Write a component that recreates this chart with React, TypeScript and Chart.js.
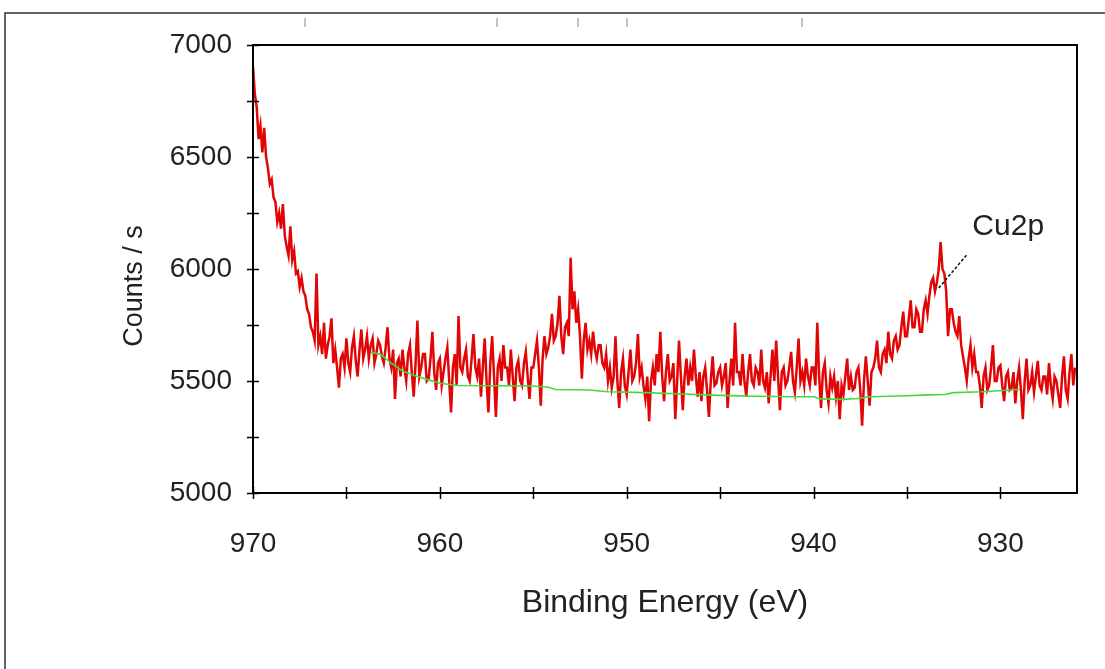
import { useEffect, useRef } from "react";
import { Chart, registerables } from "chart.js";

Chart.register(...registerables);

// Spectrum sampling: first energy and step (eV)
const START_EV = 970;
const STEP_EV = 0.1;

// Counts / s, one row per eV (970.0, 969.9, ... 969.1 / 969.0 ...)
const spectrumCounts: number[] = [
  6900, 6780, 6720, 6580, 6640, 6520, 6630, 6500, 6450, 6380, // 970
  6400, 6320, 6300, 6210, 6250, 6180, 6290, 6150, 6100, 6060, // 969
  6190, 6040, 6080, 5980, 5990, 5920, 5960, 5900, 5880, 5820, // 968
  5800, 5740, 5720, 5680, 5980, 5660, 5700, 5620, 5760, 5600, // 967
  5660, 5700, 5780, 5580, 5640, 5560, 5470, 5600, 5620, 5560, // 966
  5690, 5580, 5540, 5650, 5700, 5590, 5520, 5640, 5730, 5600, // 965
  5640, 5700, 5600, 5660, 5690, 5580, 5620, 5680, 5660, 5610, // 964
  5580, 5650, 5740, 5600, 5560, 5640, 5420, 5580, 5600, 5520, // 963
  5640, 5560, 5500, 5620, 5660, 5540, 5430, 5580, 5770, 5520, // 962
  5560, 5620, 5620, 5500, 5510, 5600, 5720, 5540, 5460, 5580, // 961
  5600, 5480, 5540, 5600, 5650, 5500, 5360, 5560, 5620, 5480, // 960
  5790, 5560, 5540, 5600, 5640, 5520, 5500, 5600, 5710, 5560, // 959
  5520, 5600, 5430, 5560, 5690, 5500, 5360, 5580, 5700, 5520, // 958
  5340, 5560, 5600, 5500, 5660, 5560, 5560, 5480, 5640, 5520, // 957
  5410, 5560, 5590, 5500, 5480, 5580, 5630, 5520, 5420, 5560, // 956
  5560, 5620, 5680, 5560, 5390, 5600, 5700, 5620, 5650, 5700, // 955
  5800, 5680, 5700, 5760, 5880, 5700, 5620, 5740, 5760, 5700, // 954
  6050, 5820, 5900, 5760, 5820, 5700, 5510, 5680, 5760, 5640, // 953
  5680, 5620, 5720, 5640, 5600, 5660, 5660, 5580, 5560, 5620, // 952
  5500, 5560, 5470, 5520, 5700, 5500, 5380, 5540, 5600, 5480, // 951
  5440, 5540, 5640, 5500, 5520, 5580, 5710, 5520, 5560, 5480, // 950
  5420, 5520, 5320, 5500, 5560, 5480, 5620, 5540, 5720, 5520, // 949
  5410, 5540, 5620, 5500, 5520, 5580, 5330, 5500, 5680, 5520, // 948
  5370, 5520, 5600, 5480, 5560, 5500, 5640, 5520, 5430, 5540, // 947
  5410, 5520, 5560, 5460, 5340, 5500, 5610, 5480, 5490, 5540, // 946
  5560, 5480, 5520, 5580, 5380, 5500, 5600, 5480, 5760, 5540, // 945
  5540, 5480, 5620, 5500, 5430, 5540, 5620, 5500, 5480, 5560, // 944
  5540, 5480, 5640, 5500, 5470, 5540, 5400, 5520, 5640, 5500, // 943
  5680, 5520, 5370, 5540, 5560, 5480, 5500, 5560, 5630, 5500, // 942
  5450, 5560, 5690, 5500, 5540, 5480, 5600, 5520, 5480, 5560, // 941
  5560, 5480, 5760, 5520, 5380, 5540, 5580, 5460, 5400, 5520, // 940
  5470, 5520, 5430, 5500, 5330, 5480, 5440, 5520, 5600, 5460, // 939
  5520, 5460, 5470, 5540, 5560, 5460, 5300, 5500, 5610, 5500, // 938
  5390, 5540, 5560, 5600, 5680, 5560, 5540, 5620, 5640, 5580, // 937
  5720, 5620, 5600, 5680, 5700, 5640, 5660, 5740, 5810, 5700, // 936
  5700, 5780, 5860, 5740, 5740, 5820, 5800, 5720, 5720, 5820, // 935
  5860, 5800, 5880, 5940, 5960, 5900, 5940, 6000, 6120, 6000, // 934
  5980, 5900, 5700, 5820, 5820, 5760, 5720, 5700, 5790, 5660, // 933
  5610, 5560, 5500, 5600, 5660, 5560, 5620, 5540, 5540, 5480, // 932
  5380, 5520, 5560, 5460, 5480, 5560, 5660, 5500, 5500, 5560, // 931
  5570, 5480, 5410, 5520, 5540, 5460, 5470, 5540, 5400, 5500, // 930
  5560, 5460, 5330, 5500, 5600, 5460, 5480, 5540, 5450, 5520, // 929
  5590, 5480, 5460, 5520, 5520, 5440, 5580, 5480, 5420, 5520, // 928
  5500, 5440, 5380, 5520, 5610, 5460, 5420, 5540, 5620, 5480, // 927
  5560, // 926
];

// Fitted background (green)
const backgroundEV: number[] = [
  963.7, 963.2, 962.6, 962.0, 961.2, 960.6, 960.0, 959.0, 957.0, 955.0,
  954.2, 953.8, 952.0, 951.0, 949.0, 947.0, 945.0, 943.0, 941.0, 940.0,
  939.6, 938.5, 937.6, 937.0, 935.0, 933.8, 933.0, 932.5, 931.0, 929.0,
];
const backgroundCounts: number[] = [
  5628, 5620, 5580, 5545, 5520, 5505, 5490, 5480, 5479, 5478,
  5472, 5462, 5460, 5452, 5448, 5442, 5436, 5432, 5430, 5430,
  5420, 5418, 5422, 5430, 5434, 5438, 5440, 5448, 5452, 5462,
];

// Axes
const xTickValues = [970, 965, 960, 955, 950, 945, 940, 935, 930];
const xLabelValues = [970, 960, 950, 940, 930];
const yTickValues = [5000, 5250, 5500, 5750, 6000, 6250, 6500, 6750, 7000];
const yLabelValues = [5000, 5500, 6000, 6500, 7000];
const X_MIN = 925.9;
const X_MAX = 970;
const Y_MIN = 5000;
const Y_MAX = 7000;

const xTitle = "Binding Energy (eV)";
const yTitle = "Counts / s";

// Peak annotation (data coordinates)
const peakLabel = "Cu2p";
const peakLabelAt = { x: 931.5, y: 6152 };
const peakLeaderFrom = { x: 933.3, y: 5915 };
const peakLeaderTo = { x: 931.8, y: 6063 };

const FONT = "'Liberation Sans', Arial, sans-serif";

const decorPlugin = {
  id: "decor",
  afterDraw(chart: any) {
    const { ctx, chartArea: a } = chart;
    const xs = chart.scales.x;
    const ys = chart.scales.y;
    ctx.save();
    // outer frame
    ctx.strokeStyle = "#333";
    ctx.lineWidth = 1.5;
    ctx.beginPath();
    ctx.moveTo(5, 669);
    ctx.lineTo(5, 13);
    ctx.lineTo(1105, 13);
    ctx.stroke();
    // faint stray marks at the top
    ctx.strokeStyle = "#888";
    ctx.lineWidth = 1;
    [305, 497, 578, 627, 802].forEach((mx) => {
      ctx.beginPath();
      ctx.moveTo(mx, 18);
      ctx.lineTo(mx, 27);
      ctx.stroke();
    });
    // plot box
    ctx.strokeStyle = "#000";
    ctx.lineWidth = 2;
    ctx.strokeRect(a.left, a.top, a.right - a.left, a.bottom - a.top);
    // ticks crossing the axes
    ctx.lineWidth = 1.5;
    xTickValues.forEach((v) => {
      const px = Math.round(xs.getPixelForValue(v)) + 0.5;
      ctx.beginPath();
      ctx.moveTo(px, a.bottom - 6);
      ctx.lineTo(px, a.bottom + 6);
      ctx.stroke();
    });
    yTickValues.forEach((v) => {
      const py = Math.round(ys.getPixelForValue(v)) + 0.5;
      ctx.beginPath();
      ctx.moveTo(a.left - 6, py);
      ctx.lineTo(a.left + 6, py);
      ctx.stroke();
    });
    // annotation
    ctx.strokeStyle = "#111";
    ctx.lineWidth = 1.5;
    ctx.setLineDash([3, 2]);
    ctx.beginPath();
    ctx.moveTo(xs.getPixelForValue(peakLeaderFrom.x), ys.getPixelForValue(peakLeaderFrom.y));
    ctx.lineTo(xs.getPixelForValue(peakLeaderTo.x), ys.getPixelForValue(peakLeaderTo.y));
    ctx.stroke();
    ctx.setLineDash([]);
    ctx.fillStyle = "#222";
    ctx.font = `30px ${FONT}`;
    ctx.textAlign = "left";
    ctx.textBaseline = "alphabetic";
    ctx.fillText(peakLabel, xs.getPixelForValue(peakLabelAt.x), ys.getPixelForValue(peakLabelAt.y));
    // y title
    ctx.translate(135, 286);
    ctx.rotate(-Math.PI / 2);
    ctx.font = `27px ${FONT}`;
    ctx.textAlign = "center";
    ctx.textBaseline = "middle";
    ctx.fillText(yTitle, 0, 0);
    ctx.restore();
  },
};

export default function App() {
  const canvasRef = useRef<HTMLCanvasElement | null>(null);

  useEffect(() => {
    const canvas = canvasRef.current;
    if (!canvas) return;
    const spectrum = spectrumCounts.map((c, i) => ({
      x: +(START_EV - i * STEP_EV).toFixed(1),
      y: c,
    }));
    const background = backgroundEV.map((e, i) => ({ x: e, y: backgroundCounts[i] }));

    const chart = new Chart(canvas, {
      type: "line",
      data: {
        datasets: [
          {
            label: "Background",
            data: background,
            borderColor: "rgb(70,215,60)",
            borderWidth: 1.6,
            pointRadius: 0,
            tension: 0,
            order: 0,
          },
          {
            label: "Cu2p spectrum",
            data: spectrum,
            borderColor: "rgb(225,5,5)",
            borderWidth: 2.5,
            pointRadius: 0,
            tension: 0,
            order: 1,
          },
        ],
      },
      options: {
        responsive: false,
        animation: false,
        layout: { padding: { top: 45, right: 28, left: 0, bottom: 0 } },
        plugins: {
          legend: { display: false },
          tooltip: { enabled: false },
          title: { display: false },
        },
        scales: {
          x: {
            type: "linear",
            reverse: true,
            min: X_MIN,
            max: X_MAX,
            afterBuildTicks: (scale: any) => {
              scale.ticks = xTickValues.map((v) => ({ value: v }));
            },
            afterFit: (scale: any) => {
              scale.height = 176;
            },
            grid: { display: false },
            border: { display: false },
            ticks: {
              autoSkip: false,
              maxRotation: 0,
              padding: 26,
              color: "#222",
              font: { family: FONT, size: 28 },
              callback: (v: any) => (xLabelValues.includes(Number(v)) ? String(v) : ""),
            },
            title: {
              display: true,
              text: xTitle,
              color: "#222",
              font: { family: FONT, size: 32 },
              padding: { top: 4, bottom: 47 },
            },
          },
          y: {
            type: "linear",
            min: Y_MIN,
            max: Y_MAX,
            afterBuildTicks: (scale: any) => {
              scale.ticks = yTickValues.map((v) => ({ value: v }));
            },
            afterFit: (scale: any) => {
              scale.width = 253;
            },
            grid: { display: false },
            border: { display: false },
            ticks: {
              autoSkip: false,
              padding: 13,
              color: "#222",
              font: { family: FONT, size: 28 },
              callback: (v: any) => (yLabelValues.includes(Number(v)) ? String(v) : ""),
            },
          },
        },
      },
      plugins: [decorPlugin],
    });
    return () => chart.destroy();
  }, []);

  return (
    <div style={{ position: "absolute", left: 0, top: 0, width: 1105, height: 669, background: "#fff" }}>
      <canvas ref={canvasRef} width={1105} height={669} style={{ display: "block" }} />
    </div>
  );
}
